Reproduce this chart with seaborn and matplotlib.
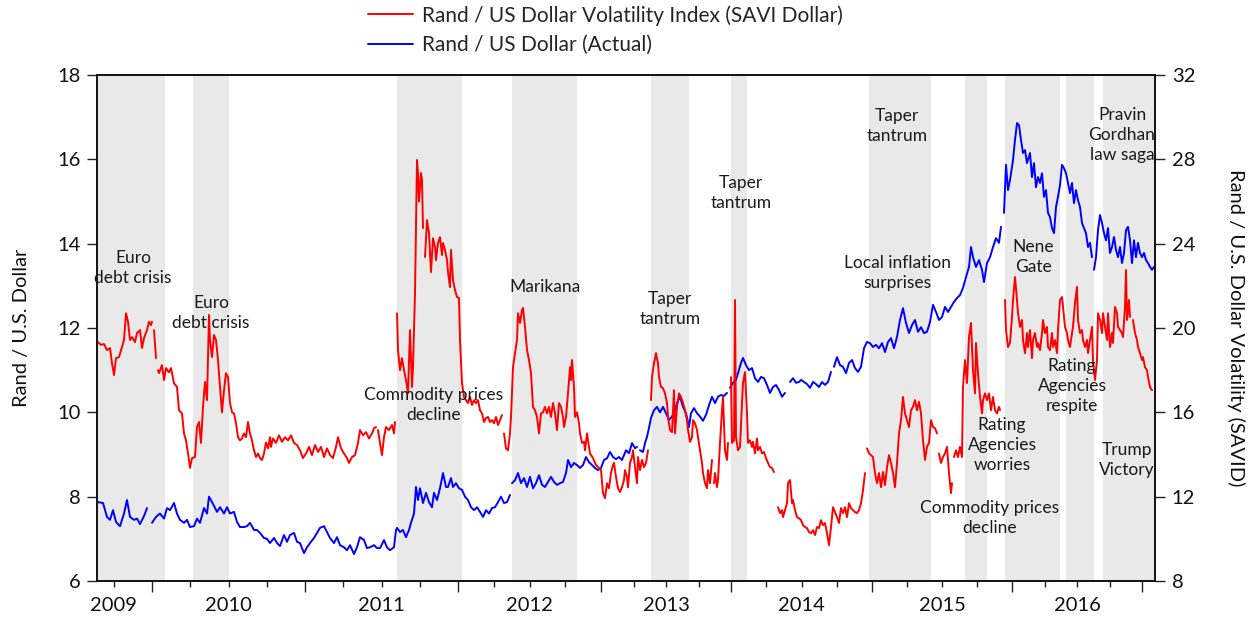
# Rand / US Dollar vs SAVI Dollar volatility index, 2009-2016
import numpy as np
import pandas as pd
import matplotlib
matplotlib.use("Agg")
import matplotlib.pyplot as plt
from matplotlib.lines import Line2D
from matplotlib.ticker import NullFormatter
import seaborn as sns

sns.set_theme(style="ticks")
plt.rcParams['font.family'] = ['Lato', 'DejaVu Sans']

nan = np.nan

# x axis is an observation index (trading days, irregular spacing per year)
# Rand / US Dollar (left axis)
usd_obs = [1, 6, 10, 13, 16, 19, 23, 27, 30, 33, 37, 40, 43, 47, 50, 52, 55, 59, 63, 67,
           70, 73, 77, 80, 83, 87, 90, 93, 97, 100, 103, 107, 110, 112, 116, 120, 123, 127, 130, 133,
           137, 140, 143, 147, 150, 153, 157, 160, 163, 167, 170, 173, 177, 180, 183, 187, 190, 193, 197, 200,
           203, 207, 210, 213, 217, 220, 223, 227, 230, 233, 237, 240, 243, 247, 250, 253, 257, 260, 263, 267,
           270, 273, 277, 280, 283, 287, 290, 293, 297, 299, 300, 303, 306, 309, 312, 314, 317, 319, 321, 323,
           326, 329, 332, 335, 337, 340, 343, 346, 349, 351, 354, 356, 359, 362, 365, 368, 371, 374, 377, 380,
           383, 386, 389, 392, 395, 398, 401, 404, 407, 410, 413, 414, 415, 418, 421, 424, 427, 430, 433, 436,
           439, 442, 445, 448, 451, 454, 457, 460, 463, 466, 469, 471, 474, 477, 480, 483, 486, 489, 492, 495,
           498, 501, 504, 507, 510, 513, 516, 519, 522, 525, 529, 532, 535, 538, 540, 542, 543, 546, 548, 550,
           552, 554, 557, 560, 563, 566, 569, 572, 575, 578, 580, 583, 586, 589, 592, 594, 597, 600, 603, 606,
           609, 612, 615, 618, 621, 624, 627, 630, 632, 633, 636, 639, 641, 644, 646, 649, 652, 655, 658, 661,
           664, 667, 670, 673, 676, 679, 682, 685, 688, 690, 693, 696, 699, 702, 704, 707, 710, 713, 716, 719,
           722, 725, 728, 731, 734, 736, 737, 740, 743, 746, 749, 752, 755, 758, 761, 764, 767, 770, 773, 776,
           779, 782, 785, 788, 791, 794, 797, 800, 803, 806, 809, 812, 815, 818, 821, 824, 827, 830, 833, 836,
           839, 842, 845, 848, 851, 854, 857, 860, 863, 866, 869, 872, 874, 876, 879, 882, 885, 887, 890, 893,
           896, 899, 902, 904, 906, 907, 909, 911, 913, 916, 918, 920, 922, 924, 926, 928, 930, 933, 935, 937,
           939, 941, 943, 945, 947, 949, 951, 953, 955, 957, 959, 961, 963, 965, 967, 969, 971, 973, 975, 977,
           979, 981, 983, 985, 987, 989, 991, 993, 995, 996, 997, 999, 1001, 1003, 1005, 1007, 1009, 1011, 1013, 1015,
           1017, 1019, 1021, 1023, 1025, 1027, 1029, 1031, 1033, 1035, 1037, 1039, 1041, 1043, 1045, 1047, 1049, 1051, 1053, 1055,
           1057]
usd_rate = [7.87, 7.85, 7.52, 7.45, 7.68, 7.40, 7.30, 7.60, 7.92, 7.52, 7.45, 7.48, 7.35, 7.54, 7.73, nan, 7.38, 7.52, 7.60, 7.48,
            7.73, 7.68, 7.85, 7.60, 7.45, 7.38, 7.45, 7.28, 7.30, 7.48, 7.38, 7.73, 7.60, 8.00, 7.83, 7.64, 7.75, 7.60, 7.75, 7.60,
            7.64, 7.40, 7.28, 7.28, 7.30, 7.38, 7.21, 7.21, 7.14, 7.02, 7.00, 6.90, 7.02, 6.90, 6.83, 7.09, 6.93, 7.09, 7.14, 6.93,
            6.90, 6.66, 6.80, 6.90, 7.02, 7.14, 7.26, 7.30, 7.16, 7.02, 6.90, 7.04, 6.85, 6.80, 6.73, 6.85, 6.64, 6.80, 7.04, 6.97,
            6.78, 6.80, 6.85, 6.78, 6.78, 6.97, 6.80, 6.73, 6.80, 7.21, 7.26, 7.16, 7.21, 7.04, 7.21, 7.38, 7.60, 8.23, 7.92, 8.20,
            7.85, 8.09, 7.87, 7.75, 8.09, 7.92, 8.20, 8.56, 8.23, 8.23, 8.44, 8.23, 8.32, 8.20, 8.16, 8.00, 7.92, 7.75, 7.68, 7.75,
            7.64, 7.52, 7.68, 7.60, 7.73, 7.75, 7.87, 8.00, 7.85, 7.87, 8.04, nan, 8.32, 8.39, 8.56, 8.32, 8.44, 8.23, 8.47, 8.20,
            8.32, 8.51, 8.28, 8.23, 8.35, 8.47, 8.35, 8.28, 8.32, 8.35, 8.56, 8.87, 8.70, 8.80, 8.75, 8.68, 8.75, 8.94, 8.82, 8.75,
            8.68, 8.63, 8.68, 8.87, 8.91, 9.06, 8.94, 8.89, 8.94, 8.87, 9.10, 9.03, 9.27, 9.15, 9.18, nan, 9.10, 9.06, 9.27, 9.42,
            9.63, 9.87, 10.05, 10.13, 10.00, 10.13, 9.98, 9.82, 9.90, 10.05, 10.22, 10.37, 10.13, 9.98, 9.65, 9.98, 10.10, 9.98, 9.90, 9.80,
            9.94, 10.17, 10.37, 10.22, 10.37, 10.41, 10.39, 10.46, nan, 10.58, 10.70, 10.77, 10.93, 11.17, 11.29, 11.12, 11.00, 11.05, 10.81, 10.72,
            10.84, 10.81, 10.65, 10.46, 10.60, 10.65, 10.53, 10.37, 10.46, nan, 10.72, 10.81, 10.70, 10.72, 10.77, 10.72, 10.67, 10.58, 10.72, 10.67,
            10.60, 10.72, 10.65, 10.72, 10.96, nan, 11.08, 11.31, 11.12, 11.08, 10.93, 11.17, 11.24, 11.05, 10.96, 11.08, 11.52, 11.67, 11.64, 11.55,
            11.60, 11.52, 11.64, 11.43, 11.67, 11.76, 11.52, 11.79, 12.19, 12.47, 12.12, 11.88, 12.07, 12.19, 11.91, 12.02, 11.88, 11.91, 12.14, 12.55,
            12.38, 12.19, 12.26, 12.50, 12.38, 12.50, 12.62, 12.71, 12.78, 12.95, 13.21, 13.45, 13.92, 13.68, 13.45, 13.61, 13.38, 13.09, 13.54, 13.68,
            13.92, 14.13, 14.02, 14.40, nan, 14.73, 15.87, 15.27, 15.51, 15.98, 16.46, 16.86, 16.81, 16.46, 16.15, 16.22, 15.91, 16.15, 15.58, 15.91,
            15.34, 15.58, 15.44, 15.67, 15.11, 15.27, 14.73, 14.63, 14.37, 14.25, 14.87, 15.11, 15.39, 15.87, 15.79, 15.67, 15.44, 15.20, 15.44, 14.96,
            15.27, 15.03, 14.87, 14.49, 14.37, 14.25, 13.92, 14.02, 13.68, nan, 13.38, 13.68, 14.32, 14.68, 14.49, 14.25, 14.08, 14.37, 13.78, 13.92,
            14.16, 13.85, 13.68, 13.92, 13.54, 13.78, 14.32, 14.40, 14.08, 13.54, 14.08, 13.68, 14.02, 13.78, 13.68, 13.78, 13.61, 13.54, 13.45, 13.38,
            13.45]

# SAVI Dollar volatility index (right axis)
savi_obs = [1, 4, 7, 10, 13, 15, 17, 19, 22, 25, 27, 29, 31, 33, 35, 38, 40, 43, 45, 47,
            50, 52, 54, 55, 56, 57, 59, 60, 61, 62, 65, 67, 69, 72, 74, 77, 80, 82, 85, 87,
            89, 91, 93, 95, 98, 100, 102, 104, 106, 108, 110, 112, 113, 115, 117, 119, 121, 123, 125, 127,
            129, 131, 133, 135, 137, 139, 141, 143, 145, 147, 149, 151, 153, 155, 157, 159, 161, 163, 165, 167,
            169, 171, 173, 174, 176, 179, 182, 185, 188, 191, 194, 197, 200, 203, 206, 209, 212, 215, 218, 221,
            224, 227, 230, 233, 236, 239, 241, 244, 247, 250, 252, 255, 258, 261, 263, 266, 269, 272, 275, 277,
            279, 280, 281, 283, 285, 287, 289, 292, 295, 297, 298, 299, 300, 301, 303, 305, 307, 309, 311, 313,
            315, 316, 318, 320, 321, 322, 324, 325, 326, 327, 328, 330, 332, 334, 336, 338, 339, 341, 343, 345,
            346, 348, 350, 351, 353, 354, 356, 358, 360, 362, 363, 365, 367, 369, 371, 373, 375, 377, 379, 381,
            383, 385, 387, 389, 391, 393, 395, 397, 399, 401, 403, 405, 406, 407, 409, 411, 413, 414, 416, 418,
            420, 421, 423, 425, 426, 428, 430, 432, 434, 436, 438, 440, 442, 444, 446, 448, 450, 452, 454, 456,
            458, 460, 462, 464, 466, 467, 469, 471, 473, 474, 475, 477, 478, 480, 482, 483, 485, 487, 488, 490,
            492, 493, 496, 499, 502, 504, 506, 508, 510, 512, 514, 516, 517, 519, 521, 523, 525, 527, 528, 530,
            531, 533, 535, 536, 538, 540, 541, 543, 545, 547, 549, 551, 552, 554, 555, 557, 559, 561, 562, 564,
            566, 568, 570, 571, 573, 575, 577, 578, 580, 582, 584, 586, 588, 590, 591, 593, 595, 596, 598, 600,
            601, 603, 605, 606, 608, 610, 611, 613, 615, 616, 617, 618, 620, 621, 623, 625, 626, 628, 630, 631,
            632, 634, 635, 637, 638, 639, 641, 643, 645, 646, 648, 650, 651, 653, 655, 656, 658, 660, 661, 663,
            665, 667, 669, 671, 673, 675, 677, 678, 679, 680, 681, 683, 685, 686, 688, 690, 691, 693, 695, 696,
            698, 700, 702, 704, 706, 708, 710, 712, 714, 716, 718, 720, 722, 724, 726, 728, 730, 732, 734, 736,
            738, 740, 742, 744, 746, 748, 750, 752, 754, 756, 758, 760, 762, 764, 766, 768, 769, 770, 772, 774,
            776, 778, 780, 782, 784, 786, 788, 790, 792, 794, 796, 798, 800, 802, 804, 806, 808, 810, 812, 814,
            816, 818, 820, 822, 824, 826, 828, 830, 832, 834, 836, 838, 840, 841, 842, 844, 846, 848, 850, 852,
            854, 855, 856, 857, 859, 861, 863, 865, 866, 868, 870, 872, 874, 876, 878, 879, 881, 883, 885, 886,
            888, 890, 892, 894, 896, 898, 900, 902, 903, 904, 908, 909, 911, 913, 915, 916, 918, 920, 921, 923,
            925, 926, 928, 930, 931, 933, 935, 936, 938, 940, 941, 943, 945, 946, 948, 950, 951, 953, 955, 956,
            958, 960, 961, 963, 965, 966, 968, 970, 971, 973, 975, 976, 978, 980, 981, 983, 985, 986, 988, 990,
            991, 993, 995, 996, 998, 1000, 1001, 1003, 1005, 1006, 1008, 1010, 1011, 1013, 1015, 1016, 1018, 1020, 1021, 1023,
            1025, 1026, 1028, 1029, 1030, 1032, 1033, 1034, 1036, 1038, 1040, 1041, 1043, 1045, 1046, 1048, 1050, 1051, 1053, 1055]
savi_vol = [19.33, 19.20, 19.24, 18.95, 19.05, 18.33, 17.77, 18.57, 18.62, 19.10, 19.43, 20.70, 20.30, 19.43, 19.57, 19.33, 19.76, 19.90, 19.05, 19.52,
            19.90, 20.30, 20.14, 20.30, nan, 19.90, 18.57, nan, 18.00, 17.86, 18.24, 17.53, 18.10, 17.90, 18.10, 17.38, 17.20, 16.10, 15.95, 15.00,
            14.67, 14.05, 13.36, 13.83, 13.88, 15.30, 15.54, 14.55, 16.26, 17.44, 16.58, 20.62, 19.43, 18.62, 19.67, 19.43, 18.48, 17.20, 16.00, 17.05,
            17.86, 17.67, 16.44, 16.00, 15.95, 15.48, 14.82, 14.67, 14.76, 15.00, 14.82, 15.54, 15.00, 14.67, 14.20, 13.88, 14.05, 13.83, 13.74, 14.05,
            14.57, 14.29, 14.82, 14.36, 14.76, 14.55, 14.91, 14.60, 14.82, 14.67, 14.91, 14.55, 14.45, 14.20, 13.83, 14.05, 14.36, 13.97, 14.45, 14.12,
            14.36, 13.88, 14.29, 13.97, 13.83, 14.36, 14.82, 14.29, 14.05, 13.83, 13.60, 13.88, 13.97, 14.55, 15.16, 14.91, 15.06, 14.76, 15.00, 15.25,
            15.30, nan, 15.16, 14.55, 13.97, 14.82, 15.30, 15.16, 15.40, 15.00, 15.54, nan, 20.70, 18.95, 18.00, 18.57, 18.00, 17.53, 16.90, 19.90,
            17.20, 18.14, 21.66, 27.97, 27.35, 26.00, 27.35, 27.02, 24.74, nan, 23.37, 25.12, 24.50, 22.65, 24.26, 23.84, 23.22, 24.03, 24.31, 23.46,
            24.03, 23.70, 23.22, 22.65, 21.94, 23.70, 22.28, 21.80, 21.47, 21.42, 19.43, 17.39, 16.73, 16.58, 16.44, 16.73, 16.35, 16.58, 16.44, 16.58,
            16.10, 15.95, 15.54, 15.73, 15.78, 15.54, 15.63, 15.48, 15.78, 15.40, 15.63, 15.87, nan, 15.00, 14.29, 14.20, 15.00, 15.78, 18.14, 18.81,
            19.43, 20.70, 20.24, 20.86, 20.95, 20.05, 18.95, 18.48, 17.86, 16.26, 16.10, 15.78, 15.00, 15.95, 16.00, 16.26, 15.95, 16.26, 15.78, 16.44,
            15.95, 15.16, 16.44, 16.26, 15.78, 15.30, 15.78, 16.90, 18.14, 17.53, 18.48, 17.20, 15.78, 16.00, 15.48, 15.00, 14.55, 14.60, 14.20, 15.00,
            14.36, 14.05, 13.83, 13.50, 13.36, 13.26, 12.17, 11.93, 12.64, 12.40, 13.12, 13.50, 13.60, 12.93, 12.40, 12.22, 12.45, 12.79, 13.26, 12.93,
            12.45, 13.60, 13.88, 14.20, 13.40, 12.64, 13.88, 13.26, 13.74, 13.40, 13.60, 14.20, nan, 16.58, 17.67, 18.33, 18.81, 18.33, 17.67, 17.20,
            17.15, 16.90, 16.44, 15.78, 15.16, 15.06, 17.05, 15.00, 16.26, 16.90, 16.73, 16.44, 16.10, 15.63, 15.16, 14.60, 14.82, 15.63, 15.48, 15.16,
            14.82, 14.20, 13.60, 13.12, 12.64, 12.40, 13.26, 12.64, 13.74, nan, 12.64, 13.12, 12.45, 12.79, 14.55, 16.10, 16.73, 14.20, 13.74, 14.55,
            nan, 17.67, 14.55, 14.67, 21.33, 14.82, 14.20, 14.36, 16.44, 17.39, 17.91, 15.95, 14.55, 14.67, 14.36, 14.60, 14.05, 14.76, 14.20, 14.36,
            14.05, 14.12, 13.83, 13.60, 13.40, 13.36, 13.17, nan, 12.31, nan, 11.50, 11.22, 11.36, 11.03, 11.36, 11.69, 12.64, 12.79, 11.69, 11.84,
            11.36, 11.03, 10.98, 10.89, 10.65, 10.56, 10.51, 10.32, 10.27, 10.41, 10.18, 10.56, 10.51, 10.89, 10.65, 10.75, 10.27, 9.70, 10.56, 11.50,
            11.27, 11.03, 10.75, 11.46, 11.22, 11.50, 11.03, 11.69, 11.46, 11.36, 11.27, 11.22, 11.36, 11.69, 12.31, 13.12, nan, 14.29, 14.05, 13.97,
            13.88, 13.12, 12.64, 13.12, 12.45, 13.17, 12.55, 13.40, 13.97, 13.60, 13.12, 12.45, 13.60, 15.00, 15.63, 16.73, 15.95, 15.63, 15.30, 16.10,
            16.26, 16.58, 16.10, 16.50, 15.95, 14.67, 13.74, 14.36, 14.55, 15.63, 15.30, 15.25, 15.00, nan, 14.05, 13.60, 13.88, 14.05, 14.36, 13.12,
            12.17, 12.64, nan, 13.88, 14.20, 13.88, 14.36, 13.88, 17.20, 18.48, 17.39, 19.57, 20.24, 18.00, 16.90, 19.29, 17.86, 16.73, 15.95, 16.58,
            16.90, 16.58, 16.90, 16.10, 16.73, 16.10, 15.95, 16.26, 16.10, nan, 21.33, 19.90, 19.10, 19.29, 20.52, 21.33, 22.42, 21.33, 20.70, 20.05,
            20.38, 19.43, 18.81, 19.76, 19.10, 19.90, 18.57, 19.43, 19.76, 19.10, 19.29, 18.95, 19.76, 20.38, 19.76, 20.05, 19.10, 18.95, 19.76, 19.10,
            19.43, 18.81, 19.90, 21.33, 21.47, 21.00, 20.05, 19.76, 19.43, 19.10, 19.76, 20.05, 21.19, 21.95, 20.38, 19.76, 19.90, 19.43, 19.10, 19.43,
            18.81, 19.43, 20.05, 18.48, 17.53, 18.48, 20.70, 20.38, 19.76, 20.70, 20.05, 19.43, 20.70, 19.10, 19.76, 19.29, 21.00, 20.70, 20.05, 19.90,
            19.76, 19.57, 21.00, 22.75, 20.38, 21.33, 20.52, nan, 20.38, 19.76, 19.43, 19.10, 18.81, 18.48, 18.62, 18.14, 18.00, 17.67, 17.20, 17.05]

# first observation of each calendar year (2010 ... 2017)
year_starts = [55, 208, 361, 504, 634, 775, 915, 1045]
year_names = ['2009', '2010', '2011', '2012', '2013', '2014', '2015', '2016']

# shaded event windows (start obs, end obs)
event_spans = [(0, 68), (96, 132), (300, 365), (415, 480), (554, 592), (634, 650),
               (772, 834), (868, 890), (908, 963), (969, 997), (1006, 1058)]

# event labels: text, obs, level on the left axis
event_labels = [
    ("Euro\ndebt crisis", 36, 13.42),
    ("Euro\ndebt crisis", 114, 12.36),
    ("Commodity prices\ndecline", 337, 10.17),
    ("Marikana", 448, 12.97),
    ("Taper\ntantrum", 573, 12.45),
    ("Taper\ntantrum", 644, 15.20),
    ("Taper\ntantrum", 800, 16.79),
    ("Local inflation\nsurprises", 800, 13.30),
    ("Nene\nGate", 936, 13.68),
    ("Pravin\nGordhan\nlaw saga", 1025, 16.58),
    ("Rating\nAgencies\nworries", 905, 9.23),
    ("Rating\nAgencies\nrespite", 975, 10.62),
    ("Commodity prices\ndecline", 893, 7.49),
    ("Trump\nVictory", 1030, 8.87),
]


def with_segments(obs, vals):
    # split the series at missing values so the line has gaps
    df = pd.DataFrame({'obs': obs, 'val': vals})
    df['seg'] = df['val'].isna().cumsum()
    return df.dropna()


usd_df = with_segments(usd_obs, usd_rate)
savi_df = with_segments(savi_obs, savi_vol)

fig = plt.figure(figsize=(12.5, 6.24), dpi=100)
ax = fig.add_axes([0.0776, 0.0689, 0.8464, 0.8109])
ax2 = ax.twinx()

for a, b in event_spans:
    ax.axvspan(a, b, color='#e9e9e9', lw=0, zorder=0)

sns.lineplot(data=usd_df, x='obs', y='val', units='seg', estimator=None,
             color='#0000ff', lw=1.4, ax=ax)
sns.lineplot(data=savi_df, x='obs', y='val', units='seg', estimator=None,
             color='#ff0000', lw=1.4, ax=ax2)

ax.set_xlim(0, 1058)
ax.set_ylim(6, 18)
ax.set_yticks(range(6, 19, 2))
ax2.set_ylim(8, 32)
ax2.set_yticks(range(8, 33, 4))

# year boundaries as long ticks, quarters as short ticks, year names mid-year
# (2009 is only partly shown, its name sits on the last visible quarter)
ax.set_xticks(year_starts)
ax.xaxis.set_major_formatter(NullFormatter())
edges = [year_starts[0] - (year_starts[1] - year_starts[0])] + year_starts
qpos, qlab = [], []
for i in range(len(edges) - 1):
    a, b = edges[i], edges[i + 1]
    for k in (1, 2, 3):
        q = a + (b - a) * k / 4
        if 0 <= q <= 1058:
            qpos.append(q)
            show = (k == 2) or (i == 0 and k == 3)
            qlab.append(year_names[i] if show else '')
ax.set_xticks(qpos, labels=qlab, minor=True)

ax.tick_params(axis='x', which='major', length=8, width=1, direction='out', color='#222222')
ax.tick_params(axis='x', which='minor', length=4.2, width=1, direction='out',
               labelsize=14.5, pad=7, color='#222222', labelcolor='#111111')
ax.tick_params(axis='y', length=7, width=1, direction='out', labelsize=14.5, pad=5,
               color='#222222', labelcolor='#111111')
ax2.tick_params(axis='y', length=7, width=1, direction='out', labelsize=14.5, pad=5,
                color='#222222', labelcolor='#111111')

for a_ in (ax, ax2):
    for s in a_.spines.values():
        s.set_color('#111111')
        s.set_linewidth(1.2)

ax.set_xlabel('')
ax.set_ylabel('Rand / U.S. Dollar', fontsize=14.5, color='#111111')
ax.yaxis.set_label_coords(-0.063, 0.5)
ax2.set_ylabel('Rand / U.S. Dollar Volatility (SAVID)', fontsize=14.5, color='#111111',
               rotation=270, va='bottom')
ax2.yaxis.set_label_coords(1.068, 0.5)

for txt, x, y in event_labels:
    ax2.text(x, y, txt, transform=ax.transData, ha='center', va='center',
             fontsize=12.5, linespacing=1.3, color='#1a1a1a')

handles = [Line2D([], [], color='#ff0000', lw=1.4),
           Line2D([], [], color='#0000ff', lw=1.4)]
fig.legend(handles, ['Rand / US Dollar Volatility Index (SAVI Dollar)',
                     'Rand / US Dollar (Actual)'],
           loc='upper left', bbox_to_anchor=(0.294, 0.992), frameon=False,
           fontsize=15, handlelength=2.2, handletextpad=0.4, labelspacing=0.45,
           borderpad=0, borderaxespad=0)

fig.savefig('out.png', dpi=100)
